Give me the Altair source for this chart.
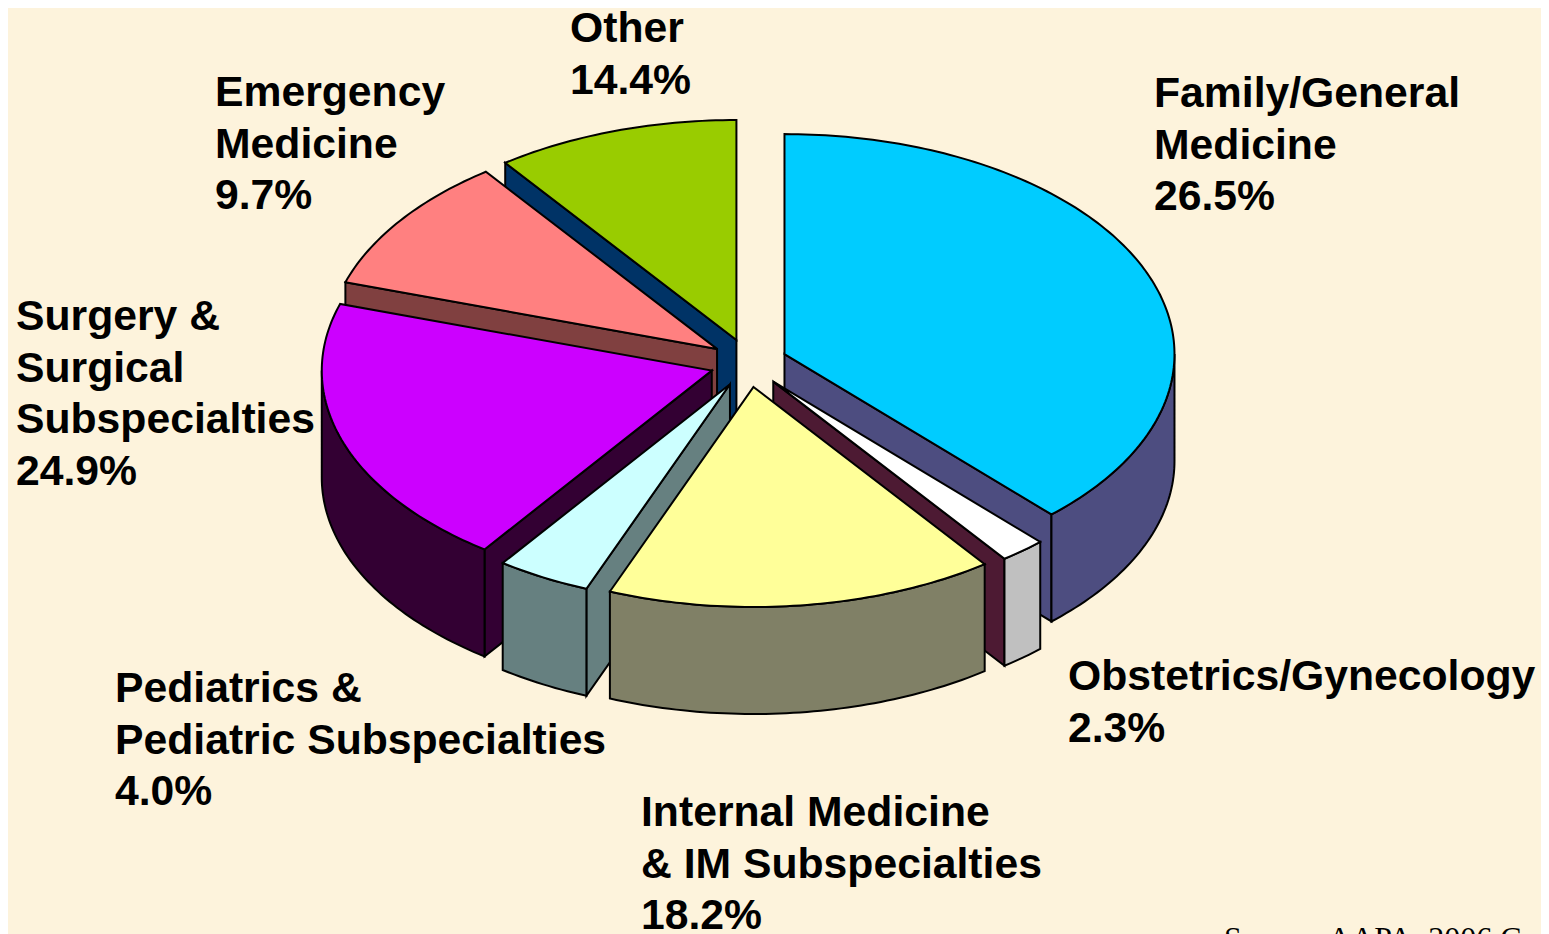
import math
import altair as alt

# Categories in clockwise order from 12 o'clock
categories = ["Family/General Medicine", "Obstetrics/Gynecology",
              "Internal Medicine & IM Subspecialties",
              "Pediatrics & Pediatric Subspecialties",
              "Surgery & Surgical Subspecialties",
              "Emergency Medicine", "Other"]
# Drawn share of each slice, % of the circle
drawn_shares = [38.0, 1.9, 16.1, 3.9, 20.0, 10.0, 10.1]
top_colors = ["#00CCFF", "#FFFFFF", "#FFFF99", "#CCFFFF", "#CC00FF", "#FF8080", "#99CC00"]
wall_colors = ["#4D4D80", "#C0C0C0", "#808066", "#668080", "#330033", "#804040", "#003366"]
face_colors = ["#4D4D80", "#4D1A33", "#808066", "#668080", "#330033", "#804040", "#003366"]
paint_order = [6, 5, 0, 4, 1, 3, 2]

label_lines = [
    ["Family/General", "Medicine", "26.5%"],
    ["Obstetrics/Gynecology", "2.3%"],
    ["Internal Medicine", "& IM Subspecialties", "18.2%"],
    ["Pediatrics &", "Pediatric Subspecialties", "4.0%"],
    ["Surgery &", "Surgical", "Subspecialties", "24.9%"],
    ["Emergency", "Medicine", "9.7%"],
    ["Other", "14.4%"],
]
source_note = "Source: AAPA, 2006 Census"

# Layout of the tilted pie (page pixels relative to the chart)
W, H = 1533, 926
CX, CY, RX, RY, DEPTH, EXPLODE = 740.5, 355, 390, 220, 107, 38.7
EXPLODE_TILT = 0.625
label_anchor = [(1146, 99), (1060, 682), (633, 818), (107, 694), (8, 322), (207, 98), (562, 34)]
LINE = 51.6


def project(theta, r, ox, oy, drop=0.0):
    return [ox + r * RX * math.sin(theta), oy - r * RY * math.cos(theta) + drop]


def arc(a, b, ox, oy, drop=0.0):
    n = max(2, int(abs(b - a) / math.radians(1)))
    return [project(a + (b - a) * i / n, 1, ox, oy, drop) for i in range(n + 1)]


def feature(points, fill):
    return {"type": "Feature", "properties": {"fill": fill},
            "geometry": {"type": "Polygon", "coordinates": [points + [points[0]]]}}


starts, total = [], 0.0
for s in drawn_shares:
    starts.append(total)
    total += s

features = []
for i in paint_order:
    a = math.radians(starts[i] * 3.6)
    b = math.radians((starts[i] + drawn_shares[i]) * 3.6)
    mid = (a + b) / 2
    ox = CX + EXPLODE * math.sin(mid)
    oy = CY - EXPLODE * EXPLODE_TILT * math.cos(mid)
    apex = [ox, oy]
    apex_low = [ox, oy + DEPTH]
    if math.sin(a) < 0:   # start face turned to the viewer
        p, q = project(a, 1, ox, oy), project(a, 1, ox, oy, DEPTH)
        features.append(feature([apex, p, q, apex_low], face_colors[i]))
    if math.sin(b) > 0:   # end face turned to the viewer
        p, q = project(b, 1, ox, oy), project(b, 1, ox, oy, DEPTH)
        features.append(feature([apex, p, q, apex_low], face_colors[i]))
    lo, hi = max(a, math.pi / 2), min(b, 3 * math.pi / 2)
    if hi > lo:           # outer wall
        features.append(feature(arc(lo, hi, ox, oy) + arc(hi, lo, ox, oy, DEPTH), wall_colors[i]))
    features.append(feature([apex] + arc(a, b, ox, oy), top_colors[i]))

pie = (
    alt.Chart(alt.Data(values=features, format=alt.DataFormat(type="json")))
    .mark_geoshape(stroke="#000000", strokeWidth=2, strokeJoin="miter")
    .encode(fill=alt.Fill("properties.fill:N", scale=None))
    .project(type="identity", scale=1, translate=[0, 0])
)

layers = [pie]
for lines, (lx, ly) in zip(label_lines, label_anchor):
    for k, line in enumerate(lines):
        layers.append(
            alt.Chart(alt.Data(values=[{"t": line}]))
            .mark_text(font="Liberation Sans", fontWeight="bold", fontSize=42.7,
                       align="left", baseline="alphabetic", color="#000000")
            .encode(text="t:N", x=alt.value(lx), y=alt.value(ly + k * LINE))
        )
layers.append(
    alt.Chart(alt.Data(values=[{"t": source_note}]))
    .mark_text(font="Liberation Serif", fontSize=32, align="left", baseline="alphabetic", color="#000000")
    .encode(text="t:N", x=alt.value(1216), y=alt.value(941))
)

chart = (
    alt.layer(*layers)
    .properties(width=W, height=H, background="#FDF3DC", padding=0,
                autosize=alt.AutoSizeParams(type="none"))
    .configure_view(stroke=None)
)
chart.save("out.html", embed_options={"renderer": "svg", "actions": False})
